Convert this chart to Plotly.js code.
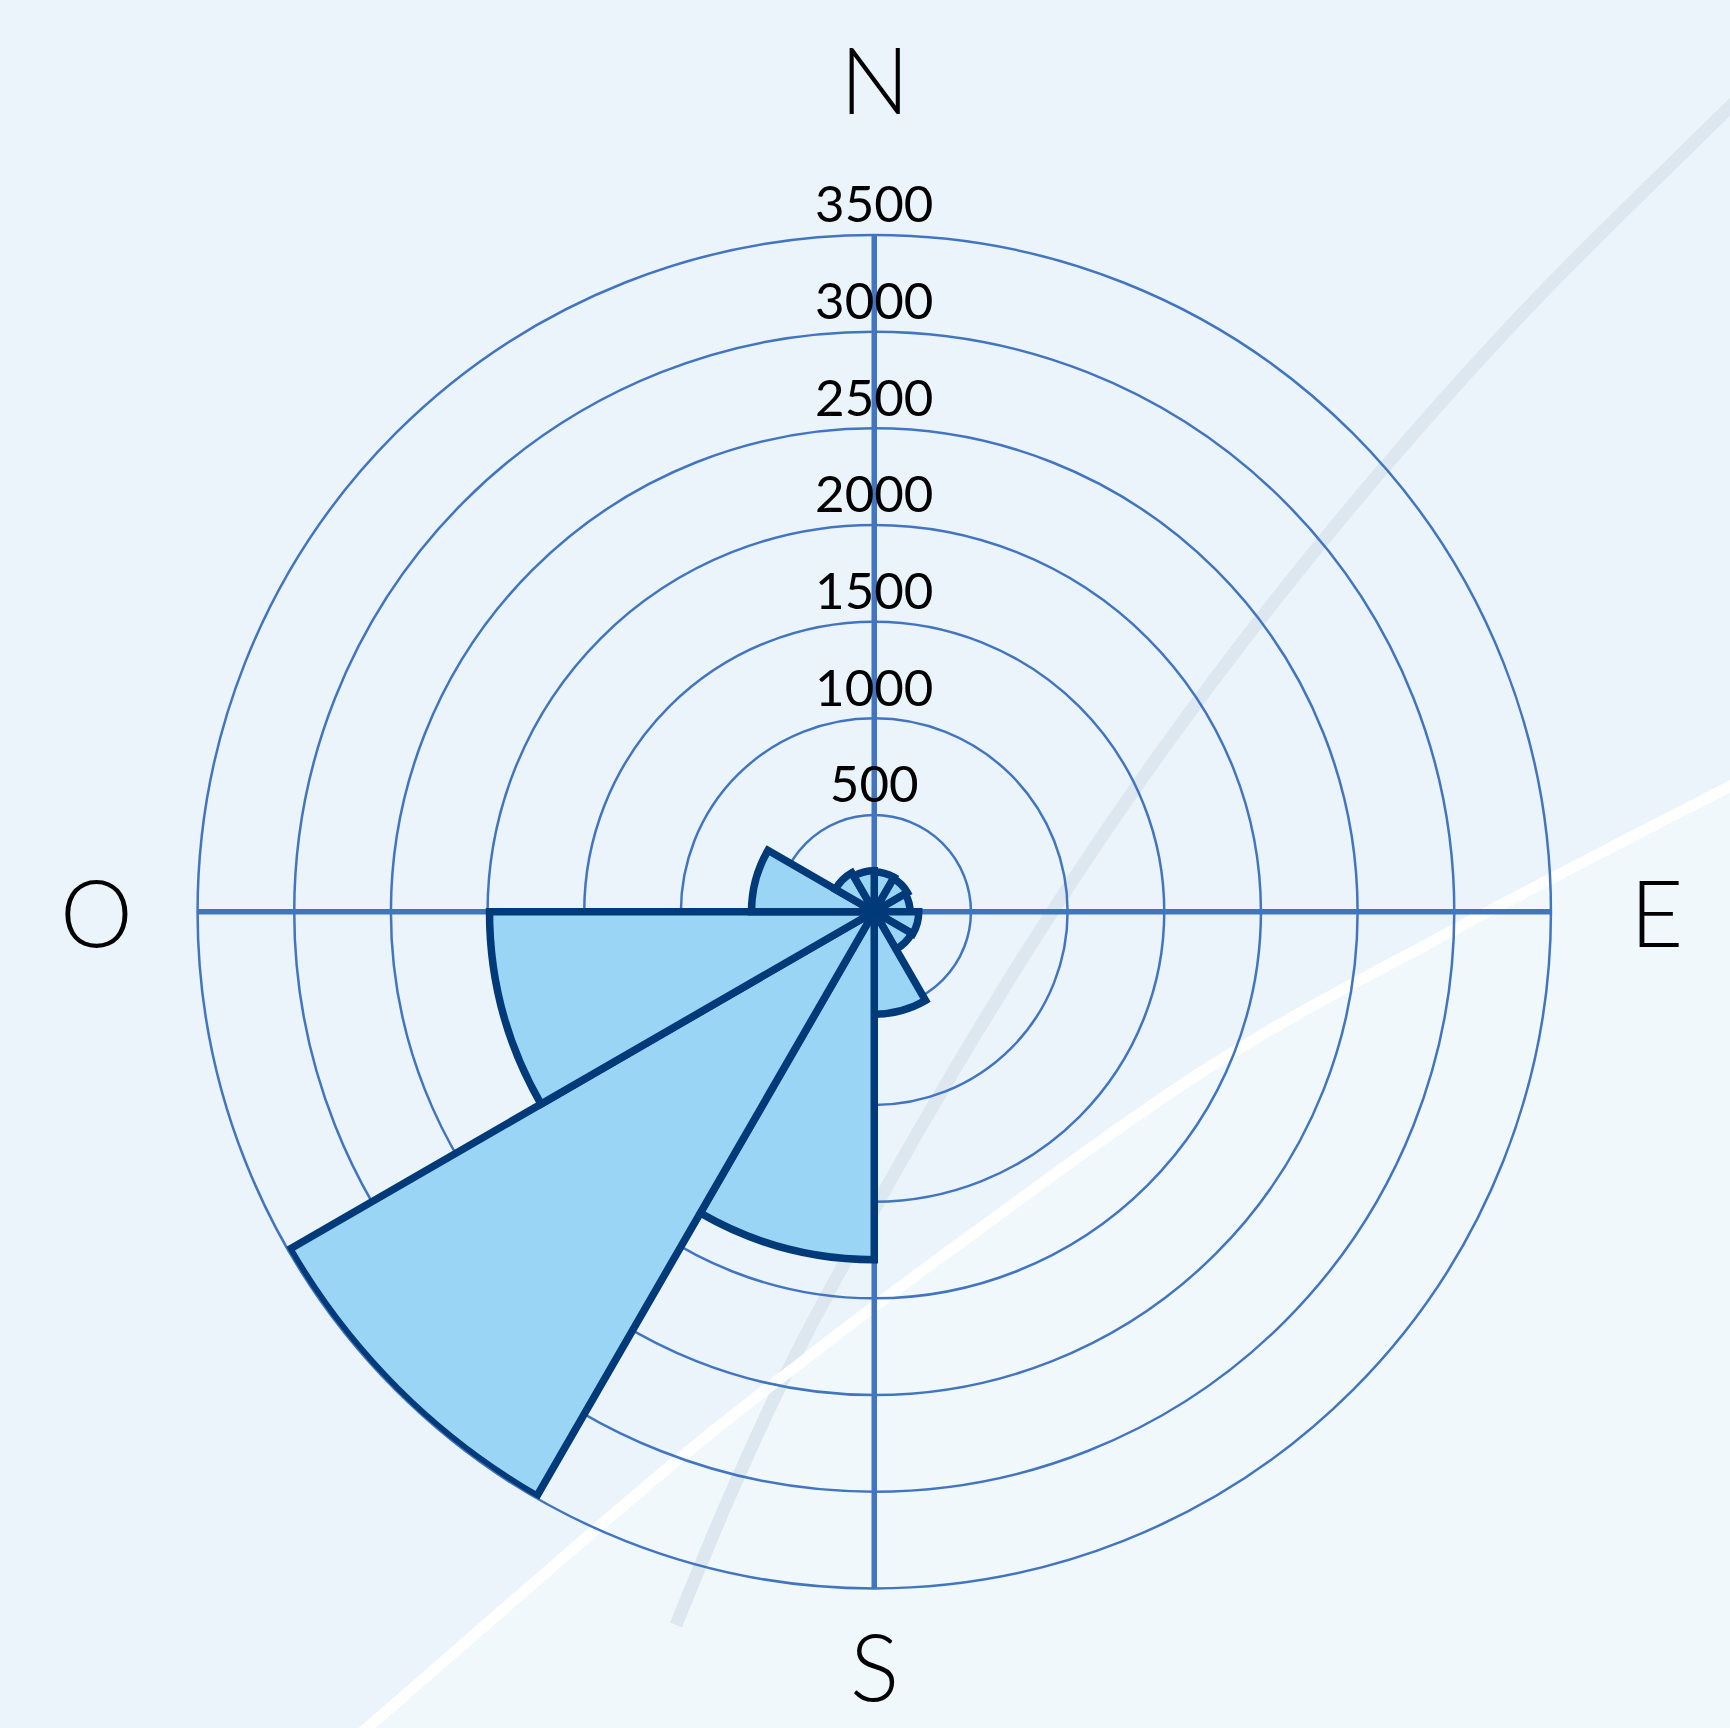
<!DOCTYPE html>
<html><head><meta charset="utf-8">
<script src="https://cdn.plot.ly/plotly-3.0.1.min.js"></script>
<style>html,body{margin:0;padding:0;background:#ECF4FB;} #chart{width:1730px;height:1728px;}</style>
</head><body><div id="chart"></div>
<script>
// ---- data ----
const directions = [15, 45, 75, 105, 135, 165, 195, 225, 255, 285, 315, 345];
const counts = [205, 198, 185, 230, 225, 530, 1800, 3490, 1990, 635, 232, 212];
const cardinalAngles = [0, 90, 180, 270];
const cardinalLabels = ['N', 'E', 'S', 'O'];
const radialTicks = [500, 1000, 1500, 2000, 2500, 3000, 3500];
const radialTickLabels = radialTicks.map(String);

// ---- geometry / style ----
const W = 1730, H = 1728;
const domX = [0.1142, 0.8965], domY = [0.0808, 0.864];
const radiusPx = (domX[1] - domX[0]) * W / 2;
const cardinalOffsetPx = [157, 106, 77, 101];   // label distance outside the outer ring
const font = 'Lato, "Open Sans", sans-serif';
const gridColor = '#4275C0';

// ---- background decoration helpers ----
function smoothPath(pts, close) {
  const p = pts.map(([x, y]) => [x / W, 1 - y / H]);
  let d = 'M' + p[0][0] + ',' + p[0][1];
  for (let i = 0; i < p.length - 1; i++) {
    const p0 = p[i - 1] || p[i], p1 = p[i], p2 = p[i + 1], p3 = p[i + 2] || p2;
    const c1 = [p1[0] + (p2[0] - p0[0]) / 6, p1[1] + (p2[1] - p0[1]) / 6];
    const c2 = [p2[0] - (p3[0] - p1[0]) / 6, p2[1] - (p3[1] - p1[1]) / 6];
    d += 'C' + c1[0] + ',' + c1[1] + ' ' + c2[0] + ',' + c2[1] + ' ' + p2[0] + ',' + p2[1];
  }
  if (close) {
    close.forEach(([x, y]) => { d += 'L' + (x / W) + ',' + (1 - y / H); });
    d += 'Z';
  }
  return d;
}
const whiteLine = [[340, 1750], [367, 1728], [650, 1483], [803, 1361], [956, 1246], [1211, 1066], [1450, 932], [1740, 781]];
const grayLine = [[1760, 78], [1730, 107], [1543, 292], [1401, 448], [1273, 603], [1158, 756], [1054, 909], [959, 1062], [871, 1215], [789, 1368], [728, 1500], [676, 1625]];

const traces = [
  {
    type: 'barpolar',
    r: counts,
    theta: directions,
    width: 30,
    marker: { color: '#9AD5F5', line: { color: '#003A78', width: 7.5 } },
    hoverinfo: 'skip'
  },
  {
    type: 'scatterpolar',
    mode: 'text',
    r: radialTicks,
    theta: radialTicks.map(() => 0),
    text: radialTickLabels,
    textposition: 'top center',
    textfont: { family: font, size: 51, color: '#000', weight: 400 },
    cliponaxis: false,
    hoverinfo: 'skip'
  }
];

const cx = (domX[0] + domX[1]) / 2, cy = (domY[0] + domY[1]) / 2;
const annotations = cardinalLabels.map((t, i) => {
  const a = cardinalAngles[i] * Math.PI / 180;
  const d = radiusPx + cardinalOffsetPx[i];
  return {
    xref: 'paper', yref: 'paper',
    x: cx + d * Math.sin(a) / W, y: cy + d * Math.cos(a) / H,
    xanchor: 'center', yanchor: 'middle', showarrow: false,
    text: t, font: { family: font, size: 92, color: '#000', weight: 300 }
  };
});

const layout = {
  width: W, height: H,
  margin: { l: 0, r: 0, t: 0, b: 0 },
  paper_bgcolor: '#ECF4FB',
  showlegend: false,
  annotations: annotations,
  shapes: [
    { type: 'path', xref: 'paper', yref: 'paper', layer: 'below', path: smoothPath(whiteLine, [[1740, 1740], [340, 1750]]), fillcolor: '#F1F8FC', line: { width: 0 } },
    { type: 'path', xref: 'paper', yref: 'paper', layer: 'below', path: smoothPath(grayLine), line: { color: '#DCE7EF', width: 13 } },
    { type: 'path', xref: 'paper', yref: 'paper', layer: 'below', path: smoothPath(whiteLine), line: { color: '#FFFFFF', width: 11 } }
  ],
  polar: {
    domain: { x: domX, y: domY },
    bgcolor: 'rgba(0,0,0,0)',
    bargap: 0,
    radialaxis: {
      range: [0, 3500], tickmode: 'array', tickvals: radialTicks,
      showticklabels: false, ticks: '', showline: false,
      gridcolor: gridColor, gridwidth: 2.5, layer: 'below traces'
    },
    angularaxis: {
      rotation: 90, direction: 'clockwise',
      tickmode: 'array', tickvals: cardinalAngles, ticktext: cardinalLabels,
      showticklabels: false, ticks: '',
      showline: true, linecolor: gridColor, linewidth: 2.5,
      gridcolor: gridColor, gridwidth: 5.5, layer: 'below traces'
    }
  }
};

Plotly.newPlot('chart', traces, layout, { displayModeBar: false, staticPlot: true });
</script>
</body></html>
